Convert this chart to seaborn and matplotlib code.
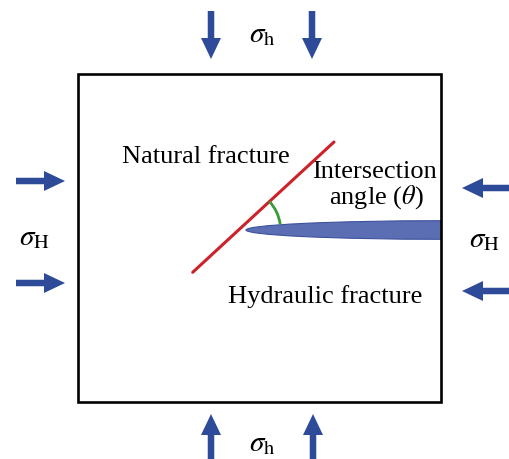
import numpy as np
import pandas as pd
import matplotlib
matplotlib.use('Agg')
import matplotlib.pyplot as plt
import matplotlib.patches as mpatches
import seaborn as sns

# схема: рамка, разломы и стрелки напряжений (координаты в пикселях картинки)
box_x = [78, 441]
box_y = [75, 403]

nat_x = [192.7, 334.0]       # природная трещина
nat_y = [273.3, 143.0]

hyd_tip = [246, 231]         # гидроразрыв, кончик
hyd_half_h = 9.3

arrow_down_x = [211, 312]    # sigma_h сверху
arrow_up_x = [211, 313]      # sigma_h снизу
arrow_right_y = [182, 284]   # sigma_H слева
arrow_left_y = [189, 292]    # sigma_H справа

labels = {
    'sh_top': (262, 35, r'$\sigma_{\rm h}$'),
    'sh_bot': (262, 444, r'$\sigma_{\rm h}$'),
    'sH_left': (34, 238, r'$\sigma_{\rm H}$'),
    'sH_right': (484, 240, r'$\sigma_{\rm H}$'),
}

sns.set_style('white')
plt.rcParams['font.family'] = ['Liberation Serif', 'DejaVu Serif']
plt.rcParams['mathtext.fontset'] = 'stix'
plt.rcParams['text.color'] = 'black'

blue = '#2d4b98'
fig = plt.figure(figsize=(5.1, 4.6), dpi=100)
ax = fig.add_axes([0, 0, 1, 1])

box = mpatches.Rectangle((box_x[0], box_y[0]), box_x[1] - box_x[0], box_y[1] - box_y[0],
                         fill=False, edgecolor='black', linewidth=1.9, zorder=5)
ax.add_patch(box)

# гидроразрыв - полуэллипс, обрезанный рамкой
a = box_x[1] - hyd_tip[0]
ell = mpatches.Ellipse((box_x[1], hyd_tip[1]), 2 * a, 2 * hyd_half_h,
                       facecolor='#5b6db3', edgecolor='#3e529c', linewidth=0.8, zorder=3)
ax.add_patch(ell)
ell.set_clip_path(mpatches.Rectangle((box_x[0], box_y[0]), box_x[1] - box_x[0],
                                     box_y[1] - box_y[0], transform=ax.transData))

df = pd.DataFrame({'x': nat_x, 'y': nat_y})
sns.lineplot(data=df, x='x', y='y', color='#cc2229', linewidth=2.2, ax=ax, zorder=4)
ax.set_xlim(0, 510)
ax.set_ylim(460, 0)
ax.axis('off')

# дуга угла пересечения
slope = (nat_y[0] - nat_y[1]) / (nat_x[1] - nat_x[0])
cx = nat_x[0] + (nat_y[0] - hyd_tip[1]) / slope
ang = np.degrees(np.arctan(slope))
arc = mpatches.Arc((cx, hyd_tip[1]), 84, 84, theta1=-ang, theta2=-8,
                   color='#3a9a3a', linewidth=2.0, zorder=4)
ax.add_patch(arc)

aw = dict(width=6.5, head_width=20, head_length=21, length_includes_head=True,
          color=blue, linewidth=0)
for x in arrow_down_x:
    ax.arrow(x, 12, 0, 48, **aw)
for x in arrow_up_x:
    ax.arrow(x, 462, 0, -47, **aw)
for y in arrow_right_y:
    ax.arrow(16, y, 49, 0, **aw)
for y in arrow_left_y:
    ax.arrow(510, y, -48, 0, **aw)

for k, (x, y, s) in labels.items():
    ax.text(x, y, s, fontsize=21, ha='center', va='center')

fs = 19
ax.text(122, 163, 'Natural fracture', fontsize=fs, ha='left', va='baseline')
ax.text(374, 178, 'Intersection', fontsize=fs, ha='center', va='baseline')
ax.text(376, 204, r'angle ($\theta$)', fontsize=fs, ha='center', va='baseline')
ax.text(228, 303, 'Hydraulic fracture', fontsize=fs, ha='left', va='baseline')

fig.savefig('out.png', dpi=100)
